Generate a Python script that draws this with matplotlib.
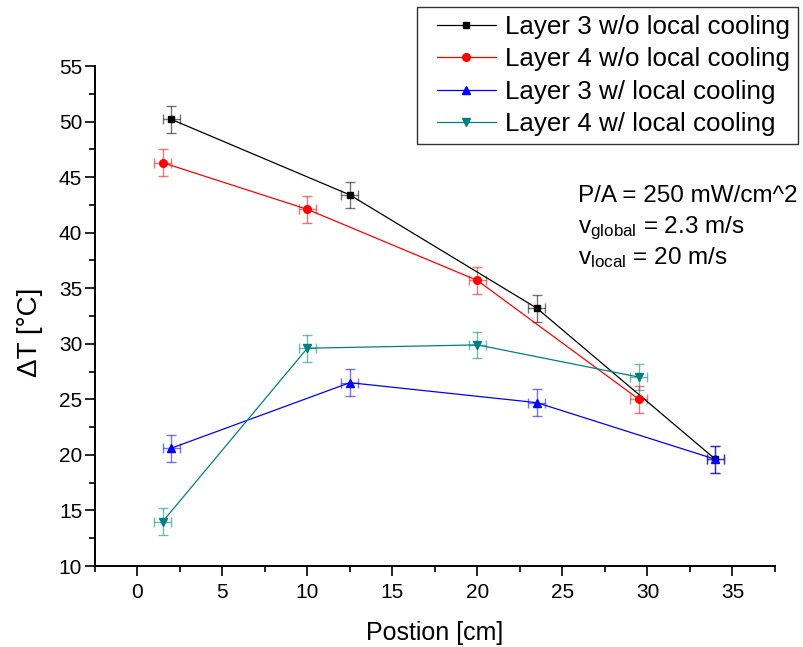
import matplotlib
matplotlib.use("Agg")
import matplotlib.pyplot as plt
from matplotlib.ticker import MultipleLocator
from matplotlib.legend_handler import HandlerLine2D

plt.rcParams['font.family'] = ['Liberation Sans', 'DejaVu Sans']
plt.rcParams['mathtext.fontset'] = 'custom'
plt.rcParams['mathtext.rm'] = 'Liberation Sans'
plt.rcParams['mathtext.it'] = 'Liberation Sans:italic'
plt.rcParams['mathtext.bf'] = 'Liberation Sans:bold'

# ---- data ----
labels = ["Layer 3 w/o local cooling", "Layer 4 w/o local cooling",
          "Layer 3 w/ local cooling", "Layer 4 w/ local cooling"]
x_l3 = [2.0, 12.5, 23.5, 34.0]
x_l4 = [1.5, 10.0, 20.0, 29.5]
y_l3_wo = [50.2, 43.4, 33.2, 19.6]
y_l4_wo = [46.3, 42.1, 35.7, 25.0]
y_l3_w = [20.6, 26.5, 24.7, 19.6]
y_l4_w = [14.0, 29.6, 29.9, 27.0]
xerr = 0.5
yerr = 1.2
xticks = [0, 5, 10, 15, 20, 25, 30, 35]
xtick_labels = ['0', '5', '10', '15', '20', '25', '30', '35']
annot_lines = ["P/A = 250 mW/cm^2",
               r"v$_{\mathrm{global}}$ = 2.3 m/s",
               r"v$_{\mathrm{local}}$ = 20 m/s"]

fig = plt.figure(figsize=(8.04, 6.47), dpi=100)
ax = fig.add_axes([94.7/804, 1-566/647, (775-94.7)/804, (566-66)/647])

series = [
    (x_l3, y_l3_wo, 'black', 's', 5),
    (x_l4, y_l4_wo, '#ff0000', 'o', 5.5),
    (x_l3, y_l3_w, '#0000ff', '^', 6),
    (x_l4, y_l4_w, '#008080', 'v', 6),
]
handles = []
for (xs, ys, c, m, ms), lab in zip(series, labels):
    ax.errorbar(xs, ys, xerr=xerr, yerr=yerr, fmt='none', ecolor=c,
                alpha=0.55, elinewidth=1.0, capsize=3.8, capthick=1.0, zorder=2)
    h, = ax.plot(xs, ys, color=c, marker=m, markersize=ms, linewidth=0.9,
                 label=lab, zorder=3)
    handles.append(h)

ax.set_xlim(-2.5, 37.5)
ax.set_ylim(10, 55)
ax.set_xticks(xticks)
ax.set_xticklabels(xtick_labels)
ax.xaxis.set_minor_locator(MultipleLocator(2.5))
ax.yaxis.set_major_locator(MultipleLocator(5))
ax.yaxis.set_minor_locator(MultipleLocator(2.5))

for s in ['top', 'right']:
    ax.spines[s].set_visible(False)
for s in ['left', 'bottom']:
    ax.spines[s].set_linewidth(1.4)
ax.tick_params(which='major', direction='out', length=7, width=1.2, labelsize=15)
ax.tick_params(axis='y', which='major', pad=2)
ax.tick_params(axis='x', which='major', pad=5)
ax.tick_params(which='minor', direction='out', length=4, width=1.2)

ax.set_xlabel("Postion [cm]", fontsize=18)
ax.set_ylabel("ΔT [°C]", fontsize=20)
ax.xaxis.set_label_coords(0.5, (566-633)/500)
ax.xaxis.label.set_va('center')
ax.yaxis.set_label_coords((30-94.7)/680.3, (566-332)/500)
ax.yaxis.label.set_va('center')

fs_leg = 18.7
leg = fig.legend(handles=handles, loc='upper right',
                 bbox_to_anchor=(798/804, 1-6.7/647), bbox_transform=fig.transFigure,
                 fontsize=fs_leg, frameon=True, fancybox=False, borderaxespad=0,
                 handlelength=2.7, labelspacing=0.32, handletextpad=0.35,
                 borderpad=0.32,
                 handler_map={h: HandlerLine2D(xpad=0.45) for h in handles})
leg.get_frame().set_edgecolor('black')
leg.get_frame().set_linewidth(1.0)

baselines = [202, 233, 264]
for line, yp in zip(annot_lines, baselines):
    fig.text(578/804, 1-yp/647, line, fontsize=17.5, ha='left', va='baseline')

fig.savefig("out.png", dpi=100)
